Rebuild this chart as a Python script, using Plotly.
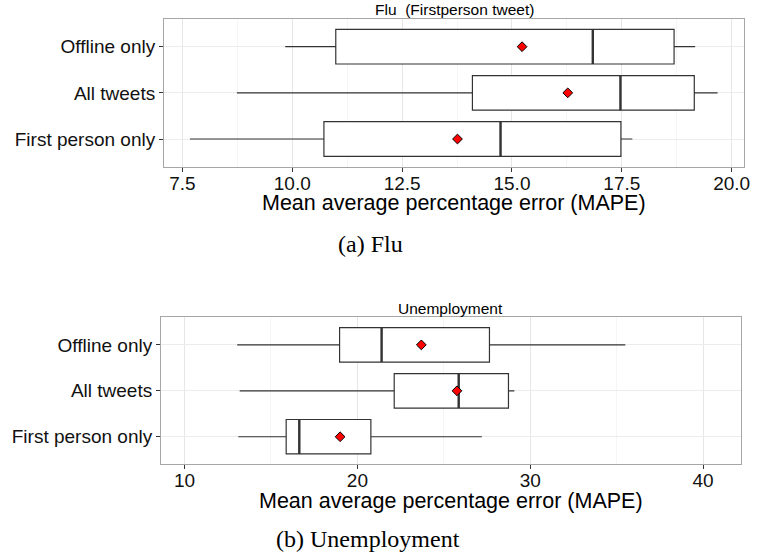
import plotly.graph_objects as go

W, H = 759, 558

categories = ["First person only", "All tweets", "Offline only"]
positions = [0, 1, 2]

# Flu (Firstperson tweet)
flu_lower = [7.67, 8.74, 9.84]
flu_q1 = [10.72, 14.10, 10.99]
flu_median = [14.74, 17.47, 16.84]
flu_q3 = [17.48, 19.15, 18.69]
flu_upper = [17.74, 19.68, 19.17]
flu_mean = [13.76, 16.27, 15.23]

# Unemployment
un_lower = [13.11, 13.19, 13.05]
un_q1 = [15.88, 22.13, 18.97]
un_median = [16.64, 25.86, 21.40]
un_q3 = [20.78, 28.74, 27.64]
un_upper = [27.20, 29.08, 35.50]
un_mean = [19.00, 25.76, 23.70]

flu_ticks = [7.5, 10.0, 12.5, 15.0, 17.5, 20.0]
un_ticks = [10, 20, 30, 40]

BOXW = 0.75
LINE = "#333333"


def px_x(p):
    return p / W


def px_y(p):
    return 1 - p / H


fig = go.Figure()


def add_panel(xa, ya, lower, q1, med, q3, upper, mean):
    fig.add_trace(go.Box(
        orientation="h", y=positions, q1=q1, median=med, q3=q3,
        lowerfence=lower, upperfence=upper, width=BOXW, whiskerwidth=0,
        fillcolor="white", line=dict(color=LINE, width=1.2),
        boxpoints=False, showlegend=False, hoverinfo="skip",
        xaxis=xa, yaxis=ya))
    mx, my = [], []
    for p, m in zip(positions, med):
        mx += [m, m, None]
        my += [p - BOXW / 2, p + BOXW / 2, None]
    fig.add_trace(go.Scatter(x=mx, y=my, mode="lines",
                             line=dict(color=LINE, width=2.4),
                             showlegend=False, hoverinfo="skip",
                             xaxis=xa, yaxis=ya))
    fig.add_trace(go.Scatter(x=mean, y=positions, mode="markers",
                             marker=dict(symbol="diamond", size=7.5, color="#ff0000",
                                         line=dict(color="#000000", width=1)),
                             showlegend=False, hoverinfo="skip",
                             xaxis=xa, yaxis=ya))


add_panel("x", "y", flu_lower, flu_q1, flu_median, flu_q3, flu_upper, flu_mean)
add_panel("x2", "y2", un_lower, un_q1, un_median, un_q3, un_upper, un_mean)

tickfont = dict(family="Liberation Sans, Arial, sans-serif", size=19, color="#111111")
common_x = dict(showline=True, mirror=True, linecolor="#a6a6a6", linewidth=1,
                ticks="outside", ticklen=4, tickwidth=1, tickcolor=LINE,
                showgrid=True, gridcolor="#e6e6e6", gridwidth=1, zeroline=False,
                tickfont=tickfont, ticklabelstandoff=-5)
common_y = dict(showline=True, mirror=True, linecolor="#a6a6a6", linewidth=1,
                ticks="outside", ticklen=4, tickwidth=1, tickcolor=LINE,
                showgrid=True, gridcolor="#ececec", gridwidth=1, zeroline=False,
                tickfont=tickfont, tickmode="array", tickvals=positions,
                ticktext=categories, range=[-0.6, 2.6])

fig.update_layout(
    width=W, height=H, autosize=False,
    margin=dict(l=0, r=0, t=0, b=0),
    paper_bgcolor="white", plot_bgcolor="white",
    xaxis=dict(common_x, domain=[px_x(165.3), px_x(750.3)], anchor="y",
               range=[7.08, 20.29], tickmode="array", tickvals=flu_ticks,
               ticktext=[f"{t:.1f}" for t in flu_ticks],
               minor=dict(showgrid=True, gridcolor="#f5f5f5", dtick=1.25, tick0=0)),
    yaxis=dict(common_y, domain=[px_y(166.7), px_y(19)], anchor="x"),
    xaxis2=dict(common_x, domain=[px_x(162.3), px_x(746.7)], anchor="y2",
                range=[8.64, 42.18], tickmode="array", tickvals=un_ticks,
                ticktext=[str(t) for t in un_ticks],
                minor=dict(showgrid=True, gridcolor="#f5f5f5", dtick=5, tick0=0)),
    yaxis2=dict(common_y, domain=[px_y(464.3), px_y(317.3)], anchor="x2"),
)

sans = "Liberation Sans, Arial, sans-serif"
serif = "Liberation Serif, Times New Roman, serif"
annots = [
    dict(text="Flu  (Firstperson tweet)", x=px_x(457.8), y=px_y(10), size=15.5, fam=sans),
    dict(text="Unemployment", x=px_x(454.5), y=px_y(308), size=15.5, fam=sans),
    dict(text="Mean average percentage error (MAPE)", x=px_x(457.8), y=px_y(203), size=21.5, fam=sans),
    dict(text="Mean average percentage error (MAPE)", x=px_x(454.5), y=px_y(501), size=21.5, fam=sans),
    dict(text="(a) Flu", x=px_x(373), y=px_y(244), size=24, fam=serif),
    dict(text="(b) Unemployment", x=px_x(371), y=px_y(539), size=24, fam=serif),
]
for a in annots:
    fig.add_annotation(text=a["text"], x=a["x"], y=a["y"], xref="paper", yref="paper",
                       xanchor="center", yanchor="middle", showarrow=False,
                       font=dict(family=a["fam"], size=a["size"], color="#000000"))

fig.write_html("out.html", config={"displayModeBar": False},
               post_script="document.body.style.margin='0';document.body.style.overflow='hidden';")
